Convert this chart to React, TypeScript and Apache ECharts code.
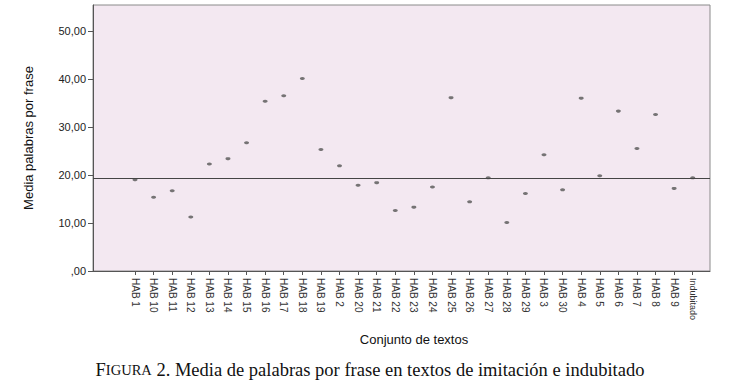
import React, { useEffect, useRef } from "react";
import * as echarts from "echarts";

const categories = [
  "HAB 1", "HAB 10", "HAB 11", "HAB 12", "HAB 13", "HAB 14", "HAB 15", "HAB 16",
  "HAB 17", "HAB 18", "HAB 19", "HAB 2", "HAB 20", "HAB 21", "HAB 22", "HAB 23",
  "HAB 24", "HAB 25", "HAB 26", "HAB 27", "HAB 28", "HAB 29", "HAB 3", "HAB 30",
  "HAB 4", "HAB 5", "HAB 6", "HAB 7", "HAB 8", "HAB 9", "Indubitado",
];

const means = [
  19.0, 15.35, 16.7, 11.25, 22.3, 23.4, 26.7, 35.35,
  36.5, 40.1, 25.3, 21.9, 17.85, 18.4, 12.6, 13.3,
  17.5, 36.1, 14.4, 19.4, 10.1, 16.15, 24.2, 16.9,
  36.0, 19.85, 33.3, 25.5, 32.6, 17.2, 19.4,
];

const referenceLine = 19.3;
const yTicks = [0, 10, 20, 30, 40, 50];

export default function App() {
  const ref = useRef<HTMLDivElement>(null);

  useEffect(() => {
    document.body.style.margin = "0";
    if (!ref.current) return;
    const chart = echarts.init(ref.current, null, { renderer: "svg" });
    const idx = categories.map((_, i) => i);
    chart.setOption({
      animation: false,
      grid: {
        left: 93,
        right: 28,
        top: 5,
        bottom: 115,
        show: true,
        backgroundColor: "#f3e8f1",
        borderColor: "#8a8a8a",
        borderWidth: 1,
      },
      xAxis: {
        type: "value",
        min: -2.26,
        max: 30.93,
        splitLine: { show: false },
        axisLine: { show: true, onZero: false, lineStyle: { color: "#555", width: 1 } },
        axisTick: {
          show: true,
          length: 4,
          lineStyle: { color: "#555" },
          customValues: idx,
        },
        axisLabel: {
          customValues: idx,
          rotate: -90,
          margin: 7,
          fontSize: 10,
          color: "#333",
          fontFamily: "Liberation Sans, Arial, sans-serif",
          formatter: (v: number) => {
            const c = categories[Math.round(v)];
            if (c === undefined) return "";
            return c.startsWith("HAB") ? c : "{s|" + c + "}";
          },
          rich: {
            s: {
              fontSize: 9,
              color: "#333",
              fontFamily: "Liberation Sans, Arial, sans-serif",
            },
          },
        },
      },
      yAxis: {
        type: "value",
        min: 0,
        max: 55.4,
        name: "Media palabras por frase",
        nameLocation: "middle",
        nameGap: 58,
        nameTextStyle: {
          fontSize: 13,
          color: "#111",
          fontFamily: "Liberation Sans, Arial, sans-serif",
        },
        splitLine: { show: false },
        axisLine: { show: true, onZero: false, lineStyle: { color: "#555", width: 1 } },
        axisTick: {
          show: true,
          length: 5,
          lineStyle: { color: "#555" },
          customValues: yTicks,
        },
        axisLabel: {
          customValues: yTicks,
          margin: 7,
          fontSize: 11,
          color: "#222",
          fontFamily: "Liberation Sans, Arial, sans-serif",
          formatter: (v: number) =>
            v === 0 ? ",00" : v.toFixed(2).replace(".", ","),
        },
      },
      series: [
        {
          type: "scatter",
          data: means.map((m, i) => [i, m]),
          symbol: "circle",
          symbolSize: [5, 3],
          itemStyle: { color: "#555" },
          markLine: {
            silent: true,
            symbol: "none",
            label: { show: false },
            lineStyle: { color: "#444", width: 1, type: "solid" },
            data: [{ yAxis: referenceLine }],
          },
        },
      ],
      graphic: [
        {
          type: "text",
          x: 414,
          y: 339,
          style: {
            text: "Conjunto de textos",
            fontSize: 13,
            fill: "#111",
            fontFamily: "Liberation Sans, Arial, sans-serif",
            textAlign: "center",
            textVerticalAlign: "middle",
          },
        },
        {
          type: "text",
          x: 370,
          y: 370,
          style: {
            text:
              "{a|F}{b|IGURA}{a| 2. Media de palabras por frase en textos de imitación e indubitado}",
            textAlign: "center",
            textVerticalAlign: "middle",
            fill: "#111",
            rich: {
              a: {
                fontSize: 18.5,
                fontFamily: "Liberation Serif, Times New Roman, serif",
                fill: "#111",
                color: "#111",
              },
              b: {
                fontSize: 14.5,
                fontFamily: "Liberation Serif, Times New Roman, serif",
                fill: "#111",
                color: "#111",
              },
            },
          },
        },
      ],
    });
    return () => chart.dispose();
  }, []);

  return <div ref={ref} style={{ width: 738, height: 386 }} />;
}
